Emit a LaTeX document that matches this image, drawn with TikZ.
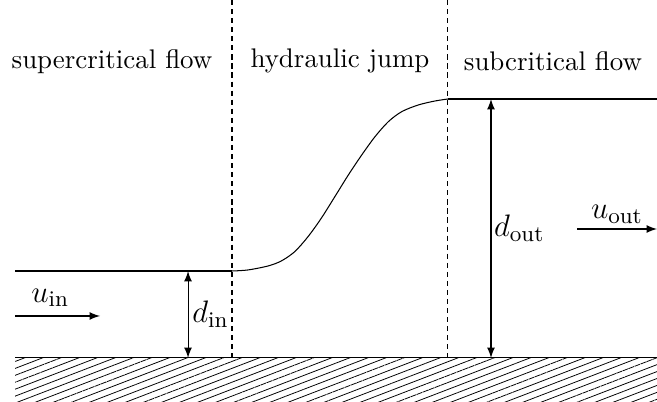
\documentclass[tikz,border=0pt]{standalone}
\usepackage{amsmath}
\usetikzlibrary{arrows.meta,patterns.meta,calc}

\tikzset{
  border/.style={dash pattern=on 2pt off 1.5pt},
  label/.style={font=\fontsize{12.4pt}{14pt}\selectfont, inner sep=1pt}
}

\begin{document}
\begin{tikzpicture}[font=\fontsize{10.4pt}{12pt}\selectfont,>=latex]
  \useasboundingbox (-0.204,-0.597) rectangle (8.716,4.860);
  % ground
  \fill[pattern={Lines[angle=21,distance=2.5pt,line width=0.3pt]}] (0,-0.597) rectangle (8.716,0);
  \coordinate (bl) at (0,0); \coordinate (br) at (8.716,0);
  \draw (bl) -- (br);
  % region borders
  \coordinate (s1t) at (2.946,4.860); \coordinate (s1b) at (2.946,0);
  \coordinate (s2t) at (5.878,4.860); \coordinate (s2b) at (5.878,0);
  \draw[border] (s1t) -- (s1b);
  \draw[border] (s2t) -- (s2b);
  \node (sup) at (1.317,4.030) {supercritical flow};
  \node (jump) at (4.412,4.030) {hydraulic jump};
  \node (sub) at (7.304,4.030) {subcritical flow};
  % free surface
  \coordinate (w0) at (0,1.181); \coordinate (w1) at (2.946,1.181);
  \coordinate (w2) at (5.878,3.516); \coordinate (w3) at (8.716,3.516);
  \draw (w0) -- (w1);
  \draw plot[smooth] coordinates {(2.946,1.181) (3.163,1.195) (3.435,1.249) (3.615,1.317)
    (3.797,1.443) (3.978,1.647) (4.158,1.897) (4.344,2.193) (4.525,2.484) (4.707,2.756)
    (4.887,3.004) (5.068,3.208) (5.250,3.344) (5.475,3.435) (5.702,3.489) (5.878,3.516)};
  \draw (w2) -- (w3);
  % depths
  \coordinate (dint) at (2.349,1.181); \coordinate (dinb) at (2.349,0);
  \draw[<->] (dinb) -- node[label,right=0.5pt] (din) {$d_{\text{in}}$} (dint);
  \coordinate (doutt) at (6.462,3.516); \coordinate (doutb) at (6.462,0);
  \draw[<->] (doutb) -- node[label,right=0pt] (dout) {$d_{\text{out}}$} (doutt);
  % velocities
  \coordinate (uin0) at (0,0.570); \coordinate (uin1) at (1.154,0.570);
  \draw[->] (uin0) -- (uin1);
  \node[label,anchor=south west] (uin) at ($(uin0)+(0.18,0.08)$) {$u_{\text{in}}$};
  \coordinate (uout0) at (7.63,1.751); \coordinate (uout1) at (8.716,1.751);
  \draw[->] (uout0) -- (uout1);
  \node[label,above=1pt] (uout) at ($(uout0)!0.5!(uout1)$) {$u_{\text{out}}$};
\end{tikzpicture}
\end{document}
